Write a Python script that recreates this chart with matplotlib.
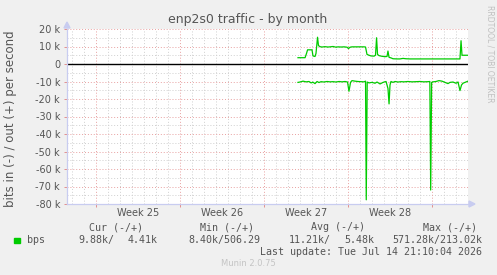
import matplotlib
matplotlib.use("Agg")
import matplotlib.pyplot as plt
from matplotlib.ticker import FixedLocator, FixedFormatter, NullFormatter
import numpy as np

# ---- data (x in days from the Monday of Week 25, values in bits/s) ----
out_days = [16.83, 17.42, 17.54, 17.63, 18.0, 18.08, 18.25, 18.33, 18.46, 18.54, 18.67, 18.83,
            19.08, 19.33, 19.5, 19.75, 20.0, 20.17, 20.42, 20.67, 20.92, 21.04, 21.17, 21.33,
            21.58, 22.0, 22.33, 22.46, 22.58, 22.75, 22.92, 23.17, 23.29, 23.38, 23.46, 23.58,
            23.83, 24.08, 24.25, 24.33, 24.42, 24.58, 24.75, 25.08, 25.33, 25.58, 25.83, 26.17,
            27.83, 29.5, 30.33, 30.42, 30.5, 31.0]
out_kbps = [3.6, 3.6, 6.0, 8.1, 8.1, 4.6, 4.3, 6.0, 15.3, 10.5, 9.9, 9.7,
            9.9, 9.7, 9.8, 10.0, 9.6, 9.8, 9.7, 9.8, 9.6, 8.8, 9.6, 9.8,
            9.8, 9.8, 9.8, 9.7, 5.5, 5.0, 4.6, 4.5, 5.0, 15.0, 5.5, 4.8,
            4.4, 4.2, 4.3, 7.4, 3.8, 3.5, 3.0, 2.9, 2.9, 3.2, 3.0, 2.9,
            2.9, 2.9, 2.9, 13.3, 5.0, 5.0]

in_days = [16.83, 17.0, 17.25, 17.5, 17.75, 17.92, 18.08, 18.25, 18.42, 18.58, 18.75, 19.0,
           19.25, 19.5, 19.75, 20.0, 20.25, 20.5, 20.75, 20.96, 21.08, 21.21, 21.33, 21.58,
           21.83, 22.08, 22.33, 22.46, 22.52, 22.6, 22.75, 23.0, 23.25, 23.42, 23.67, 23.92,
           24.17, 24.33, 24.42, 24.5, 24.58, 24.75, 24.92, 25.17, 25.42, 25.67, 26.0, 26.33,
           26.67, 27.0, 27.33, 27.67, 27.82, 27.89, 27.97, 28.08, 28.33, 28.58, 28.83, 29.08,
           29.33, 29.5, 29.75, 30.0, 30.17, 30.33, 30.46, 30.58, 30.75, 31.0]
in_kbps = [-10.5, -10.3, -9.8, -10.2, -10.0, -10.8, -10.4, -11.2, -10.0, -10.6, -10.1, -10.3,
           -10.0, -10.2, -10.1, -10.3, -10.0, -10.2, -10.0, -10.3, -15.6, -10.5, -9.5, -9.8,
           -10.0, -10.1, -10.2, -9.8, -77.6, -10.3, -10.8, -10.5, -11.0, -10.3, -11.4, -10.5,
           -10.0, -14.0, -22.8, -12.0, -10.0, -10.5, -10.0, -10.3, -10.1, -10.2, -10.0, -10.2,
           -10.1, -10.0, -10.2, -10.1, -10.0, -72.0, -10.5, -10.2, -10.0, -9.5, -9.8, -10.5,
           -11.2, -10.5, -10.3, -11.0, -10.3, -15.2, -12.0, -11.0, -10.5, -9.8]

y_ticks = [20000, 10000, 0, -10000, -20000, -30000, -40000, -50000, -60000, -70000, -80000]
y_labels = ["20 k", "10 k", "0", "-10 k", "-20 k", "-30 k", "-40 k", "-50 k", "-60 k", "-70 k", "-80 k"]
week_labels = ["Week 25", "Week 26", "Week 27", "Week 28"]
week_label_pos = [3.5, 10.5, 17.5, 24.5]
week_starts = [0, 7, 14, 21, 28]

legend_name = "bps"
cur_vals = ("9.88k/", "4.41k")
min_vals = ("8.40k/506.29",)
avg_vals = ("11.21k/", "5.48k")
max_vals = ("571.28k/213.02k",)

W, H = 497, 275
fig = plt.figure(figsize=(W / 100, H / 100), dpi=100, facecolor="#F0F0F0")
L, R, T, B = 67, 468, 29, 204
ax = fig.add_axes([L / W, 1 - B / H, (R - L) / W, (B - T) / H])
ax.set_facecolor("white")

xmin, xmax = -2.42, 31.0
ax.set_xlim(xmin, xmax)
ax.set_ylim(-80000, 20000)

fontc = "#555555"
green = "#00CC00"
mgrid = "#E8A0A0"
grid = "#CFCFCF"

# minor grid
for d in np.arange(-2, 32, 1):
    if d not in week_starts:
        ax.axvline(d, color=grid, lw=0.7, ls=(0, (1, 2)), zorder=1)
for v in range(-75000, 20000, 10000):
    ax.axhline(v, color=grid, lw=0.7, ls=(0, (1, 2)), zorder=1)
# major grid
for d in week_starts:
    ax.axvline(d, color=mgrid, lw=0.7, ls=(0, (1, 2)), zorder=2)
for v in y_ticks:
    ax.axhline(v, color=mgrid, lw=0.7, ls=(0, (1, 2)), zorder=2)

ax.axhline(0, color="black", lw=1.0, zorder=3)

ax.plot(out_days, np.array(out_kbps) * 1000, color=green, lw=0.9, zorder=4)
ax.plot(in_days, np.array(in_kbps) * 1000, color=green, lw=0.9, zorder=4)

for s in ax.spines.values():
    s.set_visible(False)

ax.yaxis.set_major_locator(FixedLocator(y_ticks))
ax.yaxis.set_major_formatter(FixedFormatter(y_labels))
ax.xaxis.set_major_locator(FixedLocator(week_starts))
ax.xaxis.set_major_formatter(NullFormatter())
ax.tick_params(axis="both", length=2, width=0.6, color="#E08080", labelcolor=fontc,
               labelsize=7, pad=3)
wy = (B - 212.7) / (B - T)
for p, lab in zip(week_label_pos, week_labels):
    ax.text(p, wy, lab, transform=ax.get_xaxis_transform(), ha="center", va="center",
            fontsize=7, color=fontc)

# axes lines + arrows
axc = "#C8CCF0"
ax.plot([xmin, xmin], [-80000, 20000], color=axc, lw=0.9, clip_on=False, zorder=5)
ax.plot([xmin, xmax], [-80000, -80000], color=axc, lw=0.9, clip_on=False, zorder=5)
fig.patches.append(plt.Polygon([[(L - 3) / W, 1 - (T - 1) / H], [(L + 3) / W, 1 - (T - 1) / H],
                                [L / W, 1 - (T - 7) / H]], closed=True, color=axc,
                               transform=fig.transFigure))
fig.patches.append(plt.Polygon([[(R + 1) / W, 1 - (B - 3) / H], [(R + 1) / W, 1 - (B + 3) / H],
                                [(R + 7) / W, 1 - B / H]], closed=True, color=axc,
                               transform=fig.transFigure))

fig.text(248 / W, 1 - 19 / H, "enp2s0 traffic - by month", ha="center", va="center",
         fontsize=9, color=fontc)
fig.text(11 / W, 1 - 118.5 / H, "bits in (-) / out (+) per second", rotation=90,
         ha="center", va="center", fontsize=8.5, color=fontc)
fig.text(490 / W, 1 - 5 / H, "RRDTOOL / TOBI OETIKER", rotation=270, ha="center", va="top",
         fontsize=5.5, color="#C0C0C0")

mono = "DejaVu Sans Mono"
ms = 7.2
def t(x, y, s, ha="right", color=fontc):
    fig.text(x / W, 1 - y / H, s, ha=ha, va="center", fontsize=ms, family=mono, color=color)

t(143, 227, "Cur (-/+)")
t(254, 227, "Min (-/+)")
t(365, 227, "Avg (-/+)")
t(477, 227, "Max (-/+)")
fig.patches.append(plt.Rectangle((14 / W, 1 - 242.7 / H), 6 / W, 5 / H, color=green,
                                 transform=fig.transFigure))
t(27, 240, legend_name, ha="left")
t(114, 240, cur_vals[0])
t(158, 240, cur_vals[1])
t(260, 240, min_vals[0])
t(331, 240, avg_vals[0])
t(374, 240, avg_vals[1])
t(482, 240, max_vals[0])
t(482, 252, "Last update: Tue Jul 14 21:10:04 2026")
fig.text(248 / W, 1 - 264 / H, "Munin 2.0.75", ha="center", va="center", fontsize=6,
         color="#C4C4C4")

fig.savefig("out.png", dpi=100, facecolor=fig.get_facecolor())
